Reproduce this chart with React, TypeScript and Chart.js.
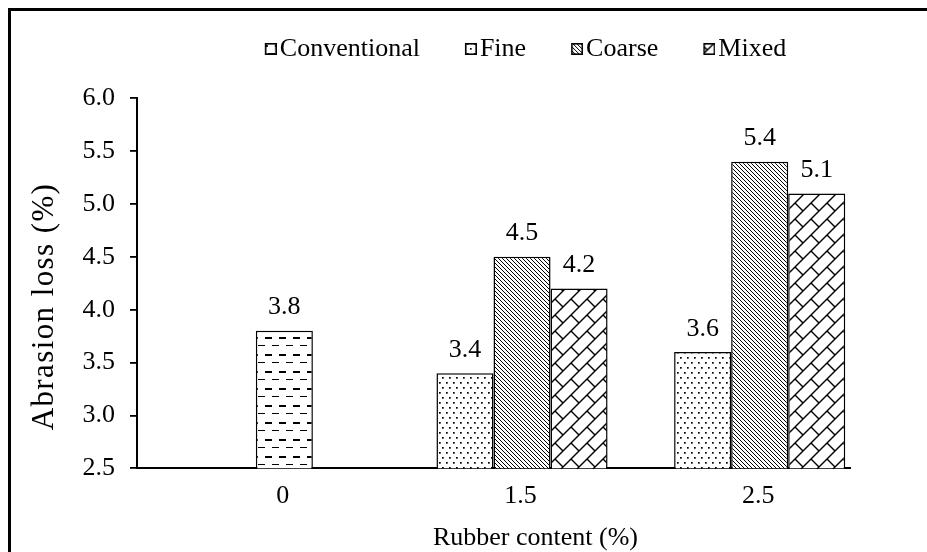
import React, { useEffect, useRef } from 'react';
import { Chart, registerables } from 'chart.js';

Chart.register(...registerables);

// ---- data ----
const categories = ['0', '1.5', '2.5'];
const seriesLabels = ['Conventional', 'Fine', 'Coarse', 'Mixed'];
const conventionalValues = [3.8, null, null];
const fineValues = [null, 3.4, 3.6];
const coarseValues = [null, 4.5, 5.4];
const mixedValues = [null, 4.2, 5.1];
const spacerValues = [null, null, null];
const yMin = 2.5;
const yMax = 6.0;
const yStep = 0.5;
const xTitle = 'Rubber content (%)';
const yTitle = 'Abrasion loss (%)';

// ---- style / layout constants ----
const FONT = '"Liberation Serif", "Times New Roman", Times, serif';
const FS = 26;
const CANVAS_W = 916;
const CANVAS_H = 545;
const LEG_DX = 54.25;
const LEG_DY = -26.3;
const TITLE_DX = 69.25;
const Y_TITLE_CX = 34;
const Y_TITLE_CY = 295.5;

type Painter = (g: CanvasRenderingContext2D) => void;

function seg(g: CanvasRenderingContext2D, x1: number, y1: number, x2: number, y2: number) {
  g.beginPath();
  g.moveTo(x1, y1);
  g.lineTo(x2, y2);
  g.stroke();
}

function tileCanvas(w: number, h: number, draw: Painter) {
  const c = document.createElement('canvas');
  c.width = w;
  c.height = h;
  const g = c.getContext('2d')!;
  g.fillStyle = '#fff';
  g.fillRect(0, 0, w, h);
  g.fillStyle = '#000';
  g.strokeStyle = '#000';
  draw(g);
  return c;
}

function makeTiles() {
  const dashes = tileCanvas(14, 17, (g) => {
    g.fillRect(2, 3, 7, 2);
    g.fillRect(9, 11, 5, 1);
    g.fillRect(0, 11, 2, 1);
  });
  const dots = tileCanvas(7, 10, (g) => {
    g.fillRect(1, 1, 1.7, 1.7);
    g.fillRect(4, 6, 1.7, 1.7);
  });
  const diag = tileCanvas(4, 4, (g) => {
    g.lineWidth = 1.0;
    seg(g, -1, -1, 5, 5);
    seg(g, -1, 3, 1, 5);
    seg(g, 3, -1, 5, 1);
  });
  const brick = tileCanvas(16, 16, (g) => {
    g.lineWidth = 1.4;
    seg(g, -1, 17, 17, -1);
    seg(g, -1, 1, 1, -1);
    seg(g, 15, 17, 17, 15);
    seg(g, 0, 0, 8, 8);
  });
  return [dashes, dots, diag, brick];
}

// legend marker: square at the right end of a wider transparent image,
// so the swatch sits right next to its text like in the reference
function legendMarker(tile: HTMLCanvasElement) {
  const c = document.createElement('canvas');
  c.width = 32;
  c.height = 14;
  const g = c.getContext('2d')!;
  const pat = g.createPattern(tile, 'repeat')!;
  g.fillStyle = pat;
  g.fillRect(20, 1, 11, 12);
  g.strokeStyle = '#000';
  g.lineWidth = 1.6;
  g.strokeRect(20.8, 1.8, 10.4, 10.4);
  return c;
}

const shiftPlugin = {
  id: 'shiftBoxes',
  afterLayout(chart: any) {
    const lg = chart.legend;
    if (lg) {
      lg.left += LEG_DX;
      lg.right += LEG_DX;
      lg.top += LEG_DY;
      lg.bottom += LEG_DY;
    }
    const tb = chart.titleBlock;
    if (tb) {
      tb.left += TITLE_DX;
      tb.right += TITLE_DX;
    }
  },
};

const valueLabelPlugin = {
  id: 'valueLabels',
  afterDatasetsDraw(chart: any) {
    const ctx = chart.ctx as CanvasRenderingContext2D;
    ctx.save();
    ctx.font = `${FS}px ${FONT}`;
    ctx.fillStyle = '#000';
    ctx.textAlign = 'center';
    ctx.textBaseline = 'alphabetic';
    for (let i = 0; i < seriesLabels.length; i++) {
      const meta = chart.getDatasetMeta(i);
      const data = chart.data.datasets[i].data;
      meta.data.forEach((bar: any, j: number) => {
        const v = data[j];
        if (v === null || v === undefined) return;
        ctx.fillText(Number(v).toFixed(1), bar.x, bar.y - 16.5);
      });
    }
    ctx.restore();
  },
};

const yTitlePlugin = {
  id: 'yTitle',
  afterDraw(chart: any) {
    const ctx = chart.ctx as CanvasRenderingContext2D;
    ctx.save();
    ctx.translate(Y_TITLE_CX, Y_TITLE_CY);
    ctx.rotate(-Math.PI / 2);
    ctx.font = `31px ${FONT}`;
    (ctx as any).letterSpacing = '1.4px';
    ctx.fillStyle = '#000';
    ctx.textAlign = 'center';
    ctx.textBaseline = 'middle';
    ctx.fillText(yTitle, 0, 0);
    ctx.restore();
  },
};

export default function App() {
  const ref = useRef<HTMLCanvasElement | null>(null);

  useEffect(() => {
    if (!ref.current) return;
    const ctx = ref.current.getContext('2d')!;
    const tiles = makeTiles();
    const pats = tiles.map((t) => ctx.createPattern(t, 'repeat')!);
    const markers = tiles.map((t) => legendMarker(t));
    const common = { borderColor: '#000', borderWidth: 1.5, borderSkipped: 'start' as const };
    const chart = new Chart(ref.current, {
      type: 'bar',
      data: {
        labels: categories,
        datasets: [
          { label: seriesLabels[0], data: conventionalValues, backgroundColor: pats[0], pointStyle: markers[0], stack: 's3', order: 2, ...common },
          { label: seriesLabels[1], data: fineValues, backgroundColor: pats[1], pointStyle: markers[1], stack: 's2', order: 1, ...common },
          { label: seriesLabels[2], data: coarseValues, backgroundColor: pats[2], pointStyle: markers[2], stack: 's3', order: 2, ...common },
          { label: seriesLabels[3], data: mixedValues, backgroundColor: pats[3], pointStyle: markers[3], stack: 's4', order: 3, ...common },
          { label: '', data: spacerValues, backgroundColor: 'rgba(0,0,0,0)', stack: 's1', order: 0, ...common },
        ] as any,
      },
      options: {
        responsive: false,
        animation: false,
        layout: { padding: { left: 71.5, right: 77, top: 16.3, bottom: 2.3 } },
        datasets: { bar: { categoryPercentage: 0.96, barPercentage: 1 } },
        scales: {
          x: {
            type: 'category',
            offset: true,
            grid: { display: false, drawTicks: false },
            border: { display: true, color: '#000', width: 2 },
            ticks: { color: '#000', font: { size: FS, family: FONT }, padding: 12, labelOffset: 27 },
            afterFit: (s: any) => {
              s.height = 43.2;
            },
          },
          y: {
            stacked: false,
            min: yMin,
            max: yMax,
            border: { display: true, color: '#000', width: 2 },
            grid: { drawOnChartArea: false, drawTicks: true, tickLength: 7, color: '#000', lineWidth: 1.8 },
            ticks: {
              stepSize: yStep,
              color: '#000',
              font: { size: FS, family: FONT },
              padding: 15,
              callback: (v: any) => Number(v).toFixed(1),
            },
            afterFit: (s: any) => {
              s.width = 54.5;
            },
          },
        },
        plugins: {
          legend: {
            position: 'top',
            align: 'center',
            labels: {
              usePointStyle: true,
              pointStyleWidth: 12,
              boxWidth: 12,
              boxHeight: 12,
              padding: 35,
              color: '#000',
              font: { size: FS, family: FONT },
              filter: (it: any) => it.datasetIndex < seriesLabels.length,
              sort: (a: any, b: any) => a.datasetIndex - b.datasetIndex,
            },
          },
          title: {
            display: true,
            position: 'bottom',
            text: xTitle,
            color: '#000',
            font: { size: FS, family: FONT, weight: 'normal' },
            padding: { top: 11, bottom: 0 },
          },
          tooltip: { enabled: false },
        },
      } as any,
      plugins: [shiftPlugin, valueLabelPlugin, yTitlePlugin],
    });
    return () => chart.destroy();
  }, []);

  return (
    <div
      style={{
        position: 'fixed',
        left: 8,
        top: 8,
        width: CANVAS_W,
        height: CANVAS_H,
        borderTop: '3px solid #000',
        borderLeft: '3px solid #000',
        overflow: 'hidden',
        background: '#fff',
      }}
    >
      <canvas ref={ref} width={CANVAS_W} height={CANVAS_H} style={{ display: 'block' }} />
    </div>
  );
}
